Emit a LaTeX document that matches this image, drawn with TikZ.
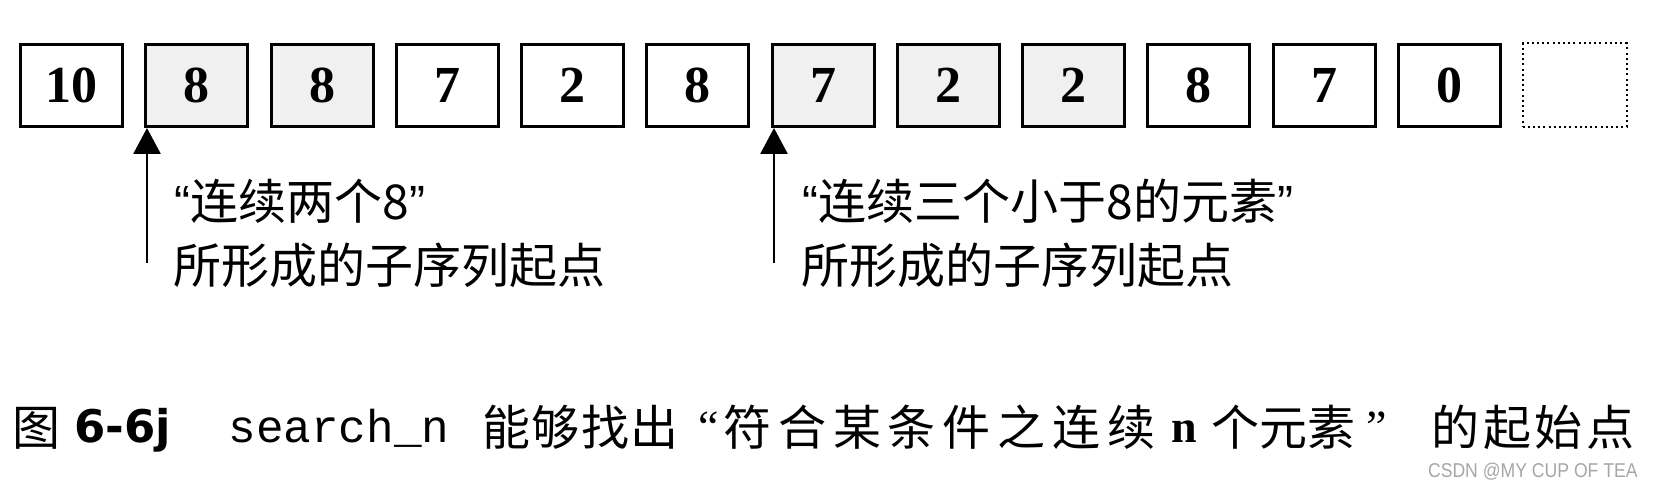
\documentclass[tikz,border=0pt]{standalone}
\usepackage{graphicx}
\usepackage{fontspec}
\setmainfont{Liberation Serif}
\newfontfamily\cjk{Noto Sans CJK SC}
\newfontfamily\capsans{DejaVu Sans}
\newfontfamily\monof{Liberation Mono}
\newfontfamily\latinsans{Liberation Sans}
\usetikzlibrary{arrows.meta}
\begin{document}
\begin{tikzpicture}[x=0.5pt,y=-0.5pt,
  cell/.style={draw, line width=1.5pt, minimum width=51pt, minimum height=41pt,
    inner sep=0pt, font=\fontsize{26pt}{26pt}\selectfont\bfseries},
  hit/.style={cell, fill=black!6},
  blankcell/.style={cell, draw=black, line width=1pt, dash pattern=on 1pt off 1.6pt,
    minimum width=52pt, minimum height=42pt},
  pointer/.style={line width=1.4pt, -{Triangle[width=13.5pt,length=13pt]}},
  lbl/.style={anchor=base west, inner sep=0pt, font=\cjk\fontsize{24pt}{24pt}\selectfont},
  captxt/.style={anchor=base west, inner sep=0pt, font=\cjk\fontsize{24pt}{24pt}\selectfont},
  caplat/.style={anchor=base west, inner sep=0pt, font=\fontsize{23pt}{23pt}\selectfont}]
\path[use as bounding box] (0,0) rectangle (1654,490);

% cells
\foreach \v/\s [count=\i from 0] in {10/cell,8/hit,8/hit,7/cell,2/cell,8/cell,7/hit,2/hit,2/hit,8/cell,7/cell,0/cell}
  \node[\s] (b\i) at ({71.5+125.25*\i},85.5) {\v};
\node[blankcell] (b12) at ({71.5+125.25*12},85.5) {};

% pointers
\coordinate (t1) at (147,263);
\coordinate (t2) at (774,263);
\draw[pointer] (t1) -- (t1 |- b1.south);
\draw[pointer] (t2) -- (t2 |- b6.south);

% labels
\node[lbl] (l1a) at (174,219.5) {{\latinsans “}连续两个8{\latinsans ”}};
\node[lbl] (l1b) at (173,283.5) {所形成的子序列起点};
\node[lbl] (l2a) at (802,219.5) {{\latinsans “}连续三个小于8的元素{\latinsans ”}};
\node[lbl] (l2b) at (801,283.5) {所形成的子序列起点};

% caption
\node[captxt] (c1) at (12,446) {图};
\node[anchor=base west, inner sep=0pt, font=\capsans\bfseries\fontsize{22.5pt}{22.5pt}\selectfont] (c2) at (74,443) {6-6j};
\node[anchor=base west, inner sep=0pt, font=\monof\fontsize{23pt}{23pt}\selectfont] (c3) at (228,443) {search\_n};
\node[captxt] (c4) at (482,446) {\makebox[98pt][s]{能\hfill 够\hfill 找\hfill 出}};
\node[caplat] (c5) at (698,443) {“};
\node[captxt] (c6) at (723,446) {\makebox[216pt][s]{符\hfill 合\hfill 某\hfill 条\hfill 件\hfill 之\hfill 连\hfill 续}};
\node[caplat, font=\fontsize{23pt}{23pt}\selectfont\bfseries] (c7) at (1171,443) {n};
\node[captxt] (c8) at (1211,446) {\makebox[71pt][s]{个\hfill 元\hfill 素}};
\node[caplat] (c9) at (1366,443) {”};
\node[captxt] (c10) at (1431,446) {\makebox[101.5pt][s]{的\hfill 起\hfill 始\hfill 点}};

% watermark
\node[anchor=base east, inner sep=0pt, text=black!35,
  font=\latinsans\fontsize{10pt}{10pt}\selectfont] (wm) at (1638,478)
  {\scalebox{0.88}[1]{CSDN @MY CUP OF TEA}};
\end{tikzpicture}
\end{document}
